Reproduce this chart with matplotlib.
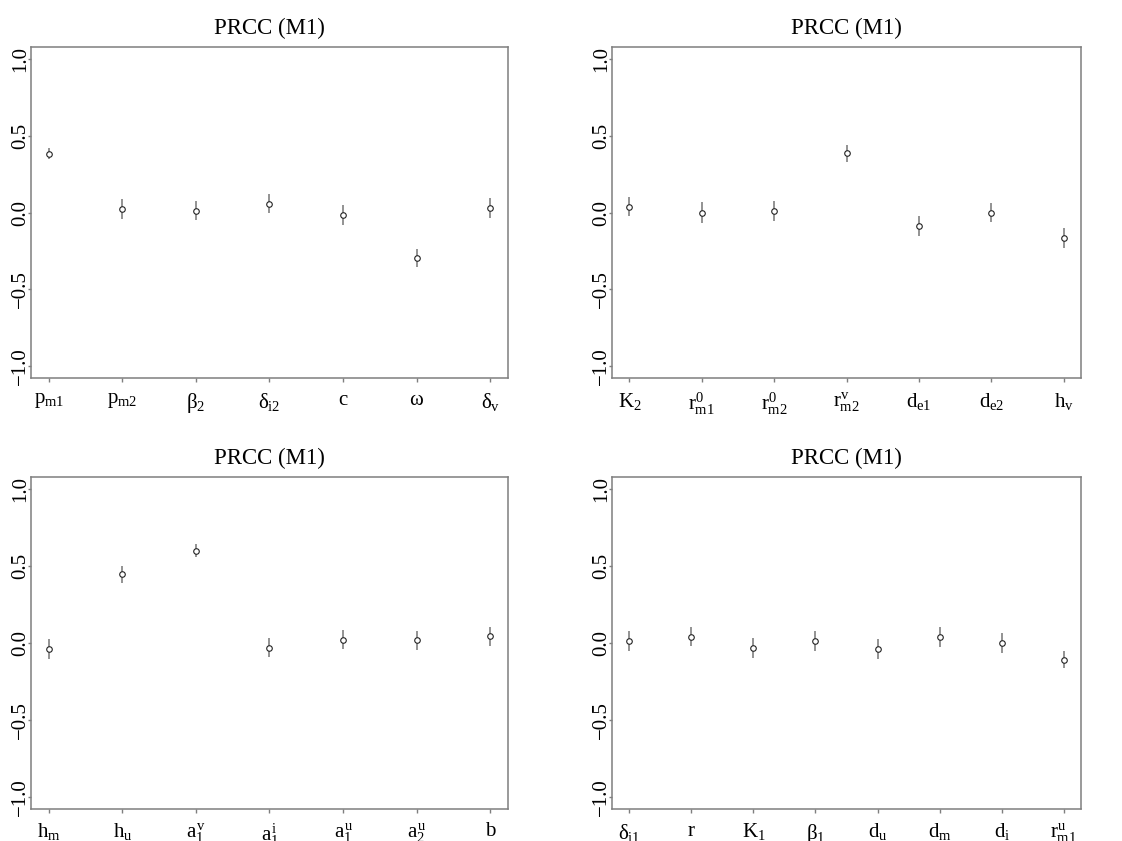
import matplotlib
matplotlib.use('Agg')
import matplotlib.pyplot as plt

plt.rcParams['font.family'] = ['Liberation Serif', 'DejaVu Serif']
plt.rcParams['mathtext.fontset'] = 'custom'
plt.rcParams['mathtext.rm'] = 'Liberation Serif'
plt.rcParams['mathtext.it'] = 'Liberation Serif'
plt.rcParams['mathtext.bf'] = 'Liberation Serif:bold'

# PRCC estimates and half-widths of the confidence bars
labels_tl = [r'$p_{m1}$', r'$p_{m2}$', r'$\beta_{2}$', r'$\delta_{i2}$', r'$c$', r'$\omega$', r'$\delta_{v}$']
prcc_tl = [0.385, 0.024, 0.013, 0.057, -0.017, -0.295, 0.031]
err_tl = [0.035, 0.064, 0.063, 0.062, 0.064, 0.059, 0.066]

labels_tr = [r'$K_{2}$', r'$r_{m1}^{0}$', r'$r_{m2}^{0}$', r'$r_{m2}^{v}$', r'$d_{e1}$', r'$d_{e2}$', r'$h_{v}$']
prcc_tr = [0.039, 0.0, 0.011, 0.387, -0.087, 0.0, -0.165]
err_tr = [0.062, 0.066, 0.064, 0.055, 0.064, 0.063, 0.064]

labels_bl = [r'$h_{m}$', r'$h_{u}$', r'$a_{1}^{v}$', r'$a_{1}^{i}$', r'$a_{1}^{u}$', r'$a_{2}^{u}$', r'$b$']
prcc_bl = [-0.039, 0.446, 0.600, -0.030, 0.022, 0.017, 0.043]
err_bl = [0.065, 0.053, 0.042, 0.061, 0.063, 0.061, 0.064]

labels_br = [r'$\delta_{i1}$', r'$r$', r'$K_{1}$', r'$\beta_{1}$', r'$d_{u}$', r'$d_{m}$', r'$d_{i}$', r'$r_{m1}^{u}$']
prcc_br = [0.013, 0.041, -0.033, 0.015, -0.039, 0.039, 0.0, -0.109]
err_br = [0.064, 0.063, 0.066, 0.064, 0.066, 0.066, 0.065, 0.054]

yticks = [-1.0, -0.5, 0.0, 0.5, 1.0]
ytick_labels = ['\u22121.0', '\u22120.5', '0.0', '0.5', '1.0']

W, H = 1122, 841
GRAY = '#7f7f7f'


def panel(fig, box, labels, vals, errs):
    left, top, right, bottom = box
    ax = fig.add_axes([left / W, (H - bottom) / H, (right - left) / W, (bottom - top) / H])
    n = len(vals)
    xs = list(range(1, n + 1))
    lo = [v - e for v, e in zip(vals, errs)]
    hi = [v + e for v, e in zip(vals, errs)]
    ax.vlines(xs, lo, hi, color='#8a8a8a', lw=1.3)
    ax.plot(xs, vals, 'o', ms=4, mfc='white', mec='#222222', mew=0.8)

    # R-style 4% padding on both axes
    pad = 0.04 * (n - 1)
    ax.set_xlim(1 - pad, n + pad)
    ax.set_ylim(-1.08, 1.08)
    ax.set_xticks(xs)
    ax.set_xticklabels(labels, fontsize=15)
    ax.set_yticks(yticks)
    ax.set_yticklabels(ytick_labels, fontsize=15)
    for lbl in ax.get_yticklabels():
        lbl.set_rotation(90)
        lbl.set_verticalalignment('center')
    ax.tick_params(axis='x', length=3, width=1, color=GRAY, direction='out', pad=6)
    ax.tick_params(axis='y', length=2, width=1, color=GRAY, direction='out', pad=-1.5)
    for s in ax.spines.values():
        s.set_color(GRAY)
        s.set_linewidth(1.1)
    ax.set_title('PRCC (M1)', fontsize=16.5, pad=9)
    return ax


fig = plt.figure(figsize=(W / 100, H / 100), dpi=100)
panel(fig, (31, 47, 508, 378), labels_tl, prcc_tl, err_tl)
panel(fig, (612, 47, 1081, 378), labels_tr, prcc_tr, err_tr)
panel(fig, (31, 477, 508, 809), labels_bl, prcc_bl, err_bl)
panel(fig, (612, 477, 1081, 809), labels_br, prcc_br, err_br)

fig.savefig('out.png', dpi=100)
